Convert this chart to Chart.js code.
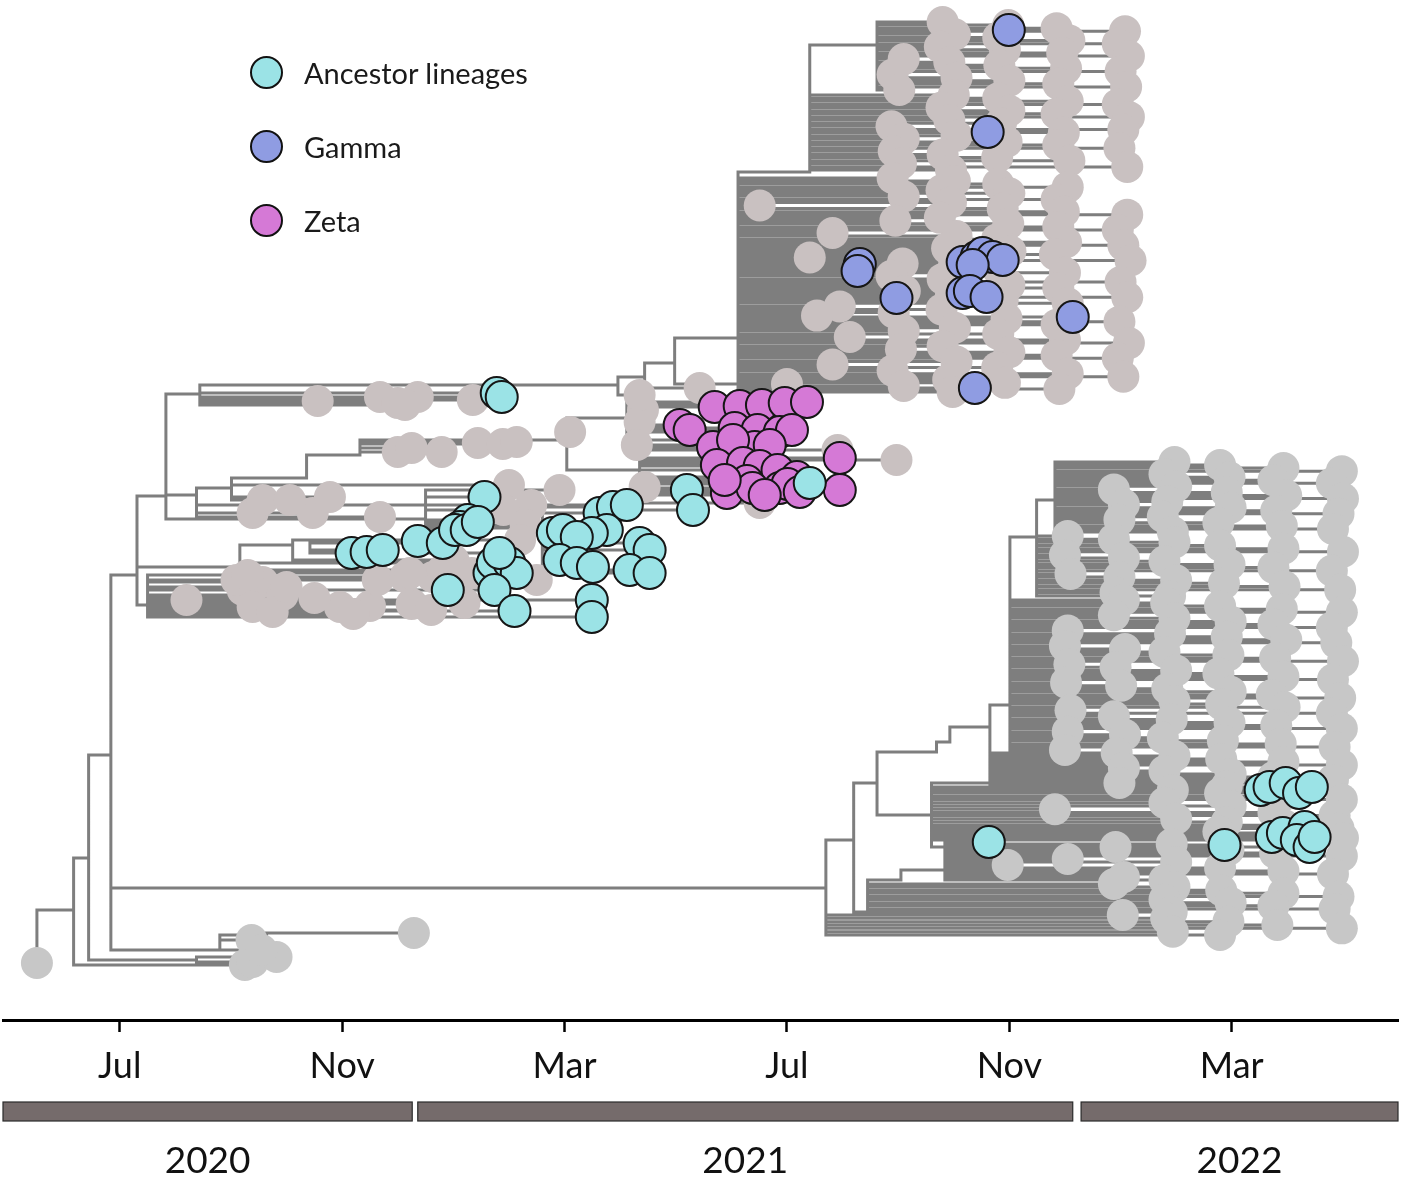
<!DOCTYPE html>
<html>
<head>
<meta charset="utf-8">
<title>Phylogeny timeline</title>
<script src="https://cdn.jsdelivr.net/npm/chart.js@4.4.1/dist/chart.umd.min.js"></script>
<style>
html, body { margin: 0; padding: 0; background: #fff; }
#wrap { position: relative; width: 1405px; height: 1178px; }
#legend { position: absolute; left: 250px; top: 55px; }
#legend .item { display: flex; align-items: center; height: 34px; margin-bottom: 40px; }
#legend .dot { width: 29px; height: 29px; border: 2.5px solid #111; border-radius: 50%; margin-right: 21px; }
#legend .lab { font-family: Lato, "Open Sans", sans-serif; font-size: 29px; color: #1a1a1a; }
</style>
</head>
<body>
<div id="wrap">
	<canvas id="canvasTree" width="1405" height="1178"></canvas>
	<div id="legend"></div>
</div>
<script>
// x = months since 1 Jan 2020 (6 = Jul 2020), y = tip row (0 top)
var monthTicks = [6, 10, 14, 18, 22, 26];
var monthLabels = ['Jul', 'Nov', 'Mar', 'Jul', 'Nov', 'Mar'];
var yearLabels = ['2020', '2021', '2022'];
var yearStart = [3.9, 11.36, 23.29];
var yearEnd = [11.26, 23.14, 28.99];

var legendNames = ['Ancestor lineages', 'Gamma', 'Zeta'];

// internal nodes: [date, row, parent node]
var nodes = [
	[4.51, 936, -1],  //0 root
	[5.17, 910, 0],   //1
	[5.44, 858, 1],   //2
	[5.84, 755, 2],   //3
	[6.31, 575, 3],   //4 middle clade
	[18.70, 888, 3],  //5 2021-22 clade
	[7.38, 960, 2],   //6
	[7.80, 950, 3],   //7
	[8.64, 935, 7],   //8
	[6.83, 496, 4],   //9
	[6.50, 605, 4],   //10
	[7.44, 394, 9],   //11
	[7.38, 495, 9],   //12
	[8.01, 488, 12],  //13
	[9.36, 478, 13],  //14
	[10.32, 455, 14], //15
	[14.04, 440, 15], //16 zeta
	[15.12, 418, 16], //17
	[15.35, 470, 16], //18
	[8.16, 567, 4],   //19
	[9.11, 545, 19],  //20
	[9.42, 540, 20],  //21
	[11.50, 519, 9],  //22
	[13.60, 528, 22], //23
	[14.96, 385, 11], //24 gamma stem
	[15.44, 377, 24], //25
	[15.98, 363, 25], //26
	[17.12, 338, 26], //27
	[18.41, 172, 27], //28
	[19.62, 45, 28],  //29
	[19.20, 840, 5],  //30
	[19.62, 783, 30], //31
	[20.69, 752, 31], //32
	[20.93, 742, 32], //33
	[21.65, 727, 33], //34
	[22.01, 705, 34], //35
	[22.49, 537, 35], //36
	[22.82, 500, 36], //37
	[20.60, 815, 31], //38
	[19.45, 912, 30], //39
	[20.05, 880, 39], //40
	[20.84, 870, 40]  //41
];

// tip dates of the dense clades, top to bottom
var ub2Dates = [20.8, 21.98, 22.85, 24.08, 21.02, 21.8, 23.08, 23.95, 20.75, 21.92, 22.95, 24.15, 20.1, 20.92, 21.82, 23.02, 24.0, 19.9, 21.05, 22.0, 22.88, 24.1, 20.02];
var ubDates = [21.0, 21.8, 23.05, 23.95, 20.78, 22.0, 22.85, 24.15, 20.92, 21.85, 19.88, 24.05, 22.98, 21.05, 20.1, 21.95, 22.88, 23.98, 19.92, 20.8, 21.78, 23.08, 20.05, 24.12, 20.95];
var uaDates = [19.9, 21.02, 21.8, 23.05, 20.78, 22.0, 20.1, 22.85, 20.95, 17.51, 21.88, 22.98,
	24.12, 20.75, 19.95, 21.98, 22.88, 23.95, 18.82, 21.05, 21.78, 23.02, 24.05, 20.88, 22.02, 22.82, 18.41, 24.18,
	20.08, 21.0, 21.8, 23.0, 19.88, 20.8, 24.0, 22.0, 22.88, 20.12, 20.95, 24.12, 21.88,
	23.05, 18.95, 20.78, 19.92, 18.54, 21.95, 23.98, 22.85, 21.02, 20.1, 21.8,
	19.13, 23.0, 24.15, 20.8, 20.05, 22.0, 22.85, 23.95, 21.05, 18.82, 21.78, 19.9, 23.05, 24.05, 20.9, 21.92, 20.1, 22.9, 20.98];

var ljDates = [24.97, 25.79, 26.93, 27.98, 24.79, 25.96, 26.75, 27.8, 25.0, 23.88, 25.91, 26.98, 28.0, 24.84, 24.06, 25.98, 26.8, 27.92, 24.76, 23.98, 25.76, 26.9, 27.82, 24.94];
var liDates = [23.05, 23.88, 24.97, 25.79, 26.93, 28.0, 23.0, 24.06, 24.79, 25.96, 26.75, 27.8, 23.1, 23.98, 25.0, 25.86, 26.95, 27.95, 23.91, 24.89];
var lhDates = [24.06, 24.82, 25.79, 26.9, 27.98, 23.88, 24.97, 25.98, 26.75, 27.8, 23.05, 24.89, 25.91, 26.98, 27.88, 23.0,
	24.08, 24.79, 25.94, 26.78, 28.0, 23.08, 23.91, 25.0, 25.76, 26.93, 27.82, 23.02, 24.01, 24.84, 25.98, 26.72,
	27.95, 24.97, 25.81, 26.95, 23.1, 27.8, 23.88, 24.92, 25.96, 26.8, 27.98, 23.05, 24.08, 24.76, 25.84, 26.88, 27.85, 23.0];
var lgDates = [23.93, 24.97, 25.81, 26.93, 27.98, 24.06, 24.79, 25.98, 26.75, 27.82, 23.98, 25.91];
var ldDates = [24.94, 25.79, 26.9, 27.98, 24.79, 25.98, 22.82, 26.75, 27.85, 25.0, 25.91, 26.95, 27.92, 25.76, 26.8, 28.0];
var lmDates = [24.92, 23.91, 25.94, 26.78, 27.98, 23.05, 25.0, 21.97, 25.79, 26.93, 27.82, 24.06, 24.79];
var lfDates = [23.88, 24.97, 25.81, 26.93, 27.92, 24.79, 25.98, 26.75, 27.85, 24.92];
var lrDates = [24.04, 24.82, 25.94, 26.82, 27.98, 24.94, 25.79];

// clades: [node, first row, last row, tip dates]
var upperCombs = [[29, 22, 90, ub2Dates], [28, 95, 170, ubDates], [27, 178, 392, uaDates]];
var lowerCombs = [[37, 462, 532, ljDates], [36, 536, 596, liDates], [35, 600, 750, lhDates], [34, 753, 786, lgDates],
	[38, 790, 838, ldDates], [41, 844, 880, lmDates], [39, 884, 912, lfDates], [5, 915, 935, lrDates]];

// single tips: [date, row, parent node]
var middleGrayTips = [
	[9.56, 401, 11], [10.68, 397, 11], [11.00, 403, 11], [11.36, 397, 11], [11.13, 405, 11], [12.35, 400, 11],
	[8.39, 513, 12], [9.47, 513, 12], [10.68, 517, 12], [13.40, 505, 12],
	[8.57, 500, 13], [9.06, 500, 13], [9.78, 497, 13], [13.00, 485, 13],
	[11.00, 452, 15], [11.79, 452, 15], [11.25, 448, 15], [12.44, 443, 15], [12.89, 444, 15], [13.14, 442, 15],
	[14.10, 432, 16],
	[15.41, 410, 17], [15.35, 422, 17], [15.30, 445, 17],
	[15.44, 487, 18], [17.51, 503, 18], [18.91, 450, 18], [19.97, 460, 18],
	[13.91, 490, 22], [12.90, 510, 22], [13.30, 525, 22],
	[14.00, 548, 23], [13.20, 540, 20], [12.00, 560, 20],
	[15.35, 395, 24], [16.43, 388, 25], [18.00, 384, 26],
	[7.20, 600, 10], [8.21, 590, 10], [8.57, 582, 10], [8.93, 595, 10], [8.39, 607, 10], [9.96, 607, 10],
	[10.50, 606, 10], [11.25, 604, 10], [8.10, 580, 10], [8.75, 612, 10], [8.30, 575, 10], [9.00, 587, 10],
	[9.50, 598, 10], [10.20, 614, 10], [11.60, 610, 10], [12.20, 603, 10],
	[10.64, 580, 19], [11.13, 577, 19], [11.63, 577, 19], [11.22, 573, 19], [12.33, 573, 19], [11.81, 570, 19], [13.50, 580, 19]
];
var rootGrayTips = [
	[4.51, 963, 0], [8.25, 965, 1], [8.39, 962, 6], [8.82, 957, 6], [8.37, 940, 7], [8.55, 950, 7], [11.29, 933, 8]
];
var ancestorTips = [
	[12.78, 393, 11], [12.87, 397, 11],
	[10.17, 553, 21], [10.44, 552, 21], [10.73, 550, 21], [11.36, 541, 21], [11.81, 543, 21],
	[12.65, 573, 19], [12.71, 563, 19], [13.01, 563, 19], [13.14, 573, 19], [12.74, 590, 19], [11.90, 590, 19],
	[13.10, 611, 10], [14.49, 600, 10], [14.49, 617, 10],
	[12.56, 497, 22], [12.26, 520, 22], [12.12, 527, 22], [12.03, 530, 22], [12.24, 530, 22], [12.44, 522, 22], [12.83, 553, 22],
	[13.79, 533, 23], [13.97, 530, 23], [14.63, 513, 23], [14.87, 507, 23], [15.12, 505, 23], [14.76, 530, 23],
	[14.49, 533, 23], [14.22, 537, 23], [13.91, 560, 23], [14.22, 563, 23], [14.51, 567, 23], [15.35, 543, 23],
	[15.53, 550, 23], [15.17, 570, 23], [15.53, 573, 23],
	[16.20, 490, 18], [16.31, 510, 18], [18.41, 483, 18],
	[21.63, 842, 41], [25.87, 845, 41],
	[26.52, 790, 38], [26.68, 787, 38], [26.97, 783, 38], [27.21, 793, 38], [27.44, 787, 38],
	[26.72, 837, 38], [26.92, 833, 38], [27.31, 827, 38], [27.17, 840, 38], [27.40, 847, 38], [27.49, 837, 38]
];
var gammaTips = [
	[21.99, 30, 29], [21.61, 132, 28],
	[19.31, 264, 27], [19.27, 271, 27], [19.97, 298, 27],
	[21.16, 262, 27], [21.41, 257, 27], [21.52, 253, 27], [21.70, 257, 27], [21.88, 260, 27], [21.34, 265, 27],
	[21.16, 293, 27], [21.29, 291, 27], [21.59, 297, 27],
	[23.14, 317, 27], [21.38, 388, 27]
];
var zetaTips = [
	[16.70, 407, 17], [17.15, 406, 17], [17.55, 405, 17], [17.96, 403, 17], [18.36, 402, 17],
	[16.07, 425, 17], [16.25, 430, 17], [17.06, 428, 17], [17.47, 430, 17], [17.87, 432, 17], [18.09, 430, 17],
	[16.67, 447, 17], [17.15, 447, 17], [17.42, 447, 17], [17.69, 445, 17], [17.03, 440, 17],
	[16.74, 465, 18], [17.21, 463, 18], [17.51, 466, 18], [17.83, 470, 18], [18.18, 477, 18],
	[17.28, 481, 18], [16.92, 493, 18], [17.38, 488, 18], [17.87, 488, 18], [18.01, 484, 18],
	[17.60, 495, 18], [18.23, 492, 18], [18.95, 458, 18], [18.95, 490, 18], [16.88, 480, 18]
];

var branchColor = 'rgb(126, 126, 126)';
var grayPink = 'rgb(201, 193, 193)';
var grayNeutral = 'rgb(199, 199, 199)';
var legendColors = ['rgb(155, 227, 230)', 'rgb(143, 156, 226)', 'rgb(213, 121, 214)'];
var fontFamily = 'Lato, "Open Sans", sans-serif';

// spread the tips of a clade over its rows, in order
function combTips(combs) {
	var out = [];
	combs.forEach(function (c) {
		var d = c[3];
		var step = d.length > 1 ? (c[2] - c[1]) / (d.length - 1) : 0;
		d.forEach(function (date, i) {
			out.push([date, c[1] + i * step, c[0]]);
		});
	});
	return out;
}

var upperTips = combTips(upperCombs);
var lowerTips = combTips(lowerCombs);

// rectangular tree: vertical at parent date, then horizontal to the child
var branchPts = [];
function addEdges(list) {
	list.forEach(function (t) {
		if (t[2] < 0) return;
		var p = nodes[t[2]];
		branchPts.push({x: p[0], y: p[1]}, {x: p[0], y: t[1]}, {x: t[0], y: t[1]}, {x: NaN, y: NaN});
	});
}
[nodes, upperTips, lowerTips, middleGrayTips, rootGrayTips, ancestorTips, gammaTips, zetaTips].forEach(addEdges);

function pts(list) {
	return list.map(function (t) { return {x: t[0], y: t[1]}; });
}

function tipSet(label, list, color, outlined, order) {
	return {
		label: label,
		data: pts(list),
		order: order,
		clip: false,
		pointRadius: 16,
		pointHoverRadius: 16,
		pointBackgroundColor: color,
		pointBorderColor: '#161616',
		pointBorderWidth: outlined ? 2 : 0,
		showLine: false
	};
}

// year bars under the month axis
var yearBars = {
	id: 'yearBars',
	afterDraw: function (chart) {
		var xs = chart.scales.x;
		var top = chart.scales.x2.top + 4;
		var c = chart.ctx;
		c.save();
		c.fillStyle = 'rgb(117, 107, 107)';
		c.strokeStyle = '#2a2a2a';
		c.lineWidth = 1.2;
		for (var i = 0; i < yearLabels.length; i++) {
			var a = xs.getPixelForValue(yearStart[i]);
			var b = xs.getPixelForValue(yearEnd[i]);
			c.fillRect(a, top, b - a, 19);
			c.strokeRect(a, top, b - a, 19);
		}
		c.restore();
	}
};

var ctx = document.getElementById('canvasTree').getContext('2d');
var treeChart = new Chart(ctx, {
	type: 'scatter',
	data: {
		datasets: [
			tipSet('Ancestor lineages', ancestorTips, legendColors[0], true, 1),
			tipSet('Gamma', gammaTips, legendColors[1], true, 1),
			tipSet('Zeta', zetaTips, legendColors[2], true, 1),
			tipSet('other', upperTips.concat(middleGrayTips), grayPink, false, 2),
			tipSet('other 2022', lowerTips.concat(rootGrayTips), grayNeutral, false, 2),
			{
				label: 'branches',
				data: branchPts,
				order: 3,
				showLine: true,
				spanGaps: false,
				clip: false,
				borderColor: branchColor,
				borderWidth: 3,
				borderCapStyle: 'square',
				borderJoinStyle: 'miter',
				pointRadius: 0,
				pointHoverRadius: 0,
				fill: false
			}
		]
	},
	options: {
		responsive: false,
		animation: false,
		events: [],
		layout: { autoPadding: false, padding: { left: 3, right: 7, top: 0, bottom: 0 } },
		plugins: {
			legend: { display: false },
			tooltip: { enabled: false }
		},
		scales: {
			x: {
				type: 'linear',
				position: 'bottom',
				weight: 0,
				min: 3.9,
				max: 28.99,
				afterBuildTicks: function (s) {
					s.ticks = monthTicks.map(function (v) { return {value: v}; });
				},
				afterFit: function (s) { s.height = 78; },
				ticks: {
					autoSkip: false,
					maxRotation: 0,
					padding: 13,
					color: '#111',
					font: { family: fontFamily, size: 36 },
					callback: function (v, i) { return monthLabels[i]; }
				},
				grid: { drawOnChartArea: false, drawTicks: true, tickLength: 12, tickColor: '#000', tickWidth: 2.5 },
				border: { display: true, color: '#000', width: 3 }
			},
			x2: {
				type: 'linear',
				position: 'bottom',
				weight: 1,
				min: 3.9,
				max: 28.99,
				afterBuildTicks: function (s) {
					s.ticks = yearLabels.map(function (l, i) { return {value: (yearStart[i] + yearEnd[i]) / 2}; });
				},
				afterFit: function (s) { s.height = 80; },
				ticks: {
					autoSkip: false,
					maxRotation: 0,
					padding: 41,
					color: '#111',
					font: { family: fontFamily, size: 37 },
					callback: function (v, i) { return yearLabels[i]; }
				},
				grid: { display: false, drawTicks: false },
				border: { display: false }
			},
			y: {
				type: 'linear',
				display: false,
				reverse: true,
				min: 0,
				max: 1020
			}
		}
	},
	plugins: [yearBars]
});

// legend, top left
var legendBox = document.getElementById('legend');
legendNames.forEach(function (name, i) {
	var row = document.createElement('div');
	row.className = 'item';
	var dot = document.createElement('div');
	dot.className = 'dot';
	dot.style.background = legendColors[i];
	var lab = document.createElement('span');
	lab.className = 'lab';
	lab.textContent = name;
	row.appendChild(dot);
	row.appendChild(lab);
	legendBox.appendChild(row);
});
</script>
</body>
</html>
